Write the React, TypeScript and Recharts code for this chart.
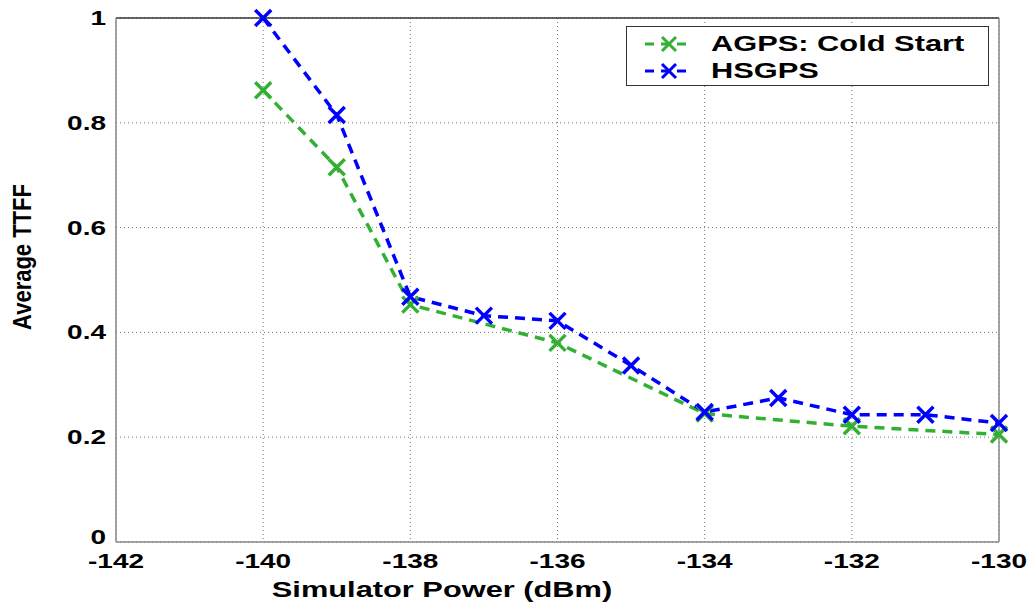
import React from "react";
import {
  LineChart,
  Line,
  XAxis,
  YAxis,
  CartesianGrid,
  ReferenceLine,
} from "recharts";

const POWER = [-140, -139, -138, -137, -136, -135, -134, -133, -132, -131, -130];
const AGPS_COLD = [0.862, 0.715, 0.453, null, 0.38, null, 0.245, null, 0.221, null, 0.205];
const HSGPS = [1.0, 0.815, 0.468, 0.432, 0.422, 0.337, 0.248, 0.275, 0.243, 0.243, 0.227];

const X_TICKS = [-142, -140, -138, -136, -134, -132, -130];
const Y_TICKS = [0, 0.2, 0.4, 0.6, 0.8, 1];

const SERIES = [
  { key: "agps", label: "AGPS: Cold Start", color: "#33b033" },
  { key: "hsgps", label: "HSGPS", color: "#0000ff" },
];

const data = POWER.map((p, i) => ({
  power: p,
  agps: AGPS_COLD[i],
  hsgps: HSGPS[i],
}));

const FONT = "'Liberation Sans', Arial, Helvetica, sans-serif";
// the reference image is stretched sideways, so the text is too
const STRETCH = 1.4;

function XTick(props: any) {
  const { x, y, payload } = props;
  return (
    <text
      transform={`translate(${x},${y + 18}) scale(${STRETCH},1)`}
      textAnchor="middle"
      fontFamily={FONT}
      fontWeight="bold"
      fontSize={20}
      fill="#000"
    >
      {payload.value}
    </text>
  );
}

function YTick(props: any) {
  const { x, y, payload } = props;
  const dy = payload.value === 0 ? 2 : 7;
  return (
    <text
      transform={`translate(${x - 2},${y + dy}) scale(${STRETCH},1)`}
      textAnchor="end"
      fontFamily={FONT}
      fontWeight="bold"
      fontSize={20}
      fill="#000"
    >
      {payload.value}
    </text>
  );
}

function makeCross(color: string) {
  return (props: any) => {
    const { cx, cy, index } = props;
    if (cx == null || cy == null || props.value == null) return <g key={index} />;
    const s = 8;
    return (
      <path
        key={index}
        d={`M${cx - s},${cy - s}L${cx + s},${cy + s}M${cx - s},${cy + s}L${cx + s},${cy - s}`}
        stroke={color}
        strokeWidth={3.5}
        fill="none"
      />
    );
  };
}

function LegendBox() {
  return (
    <div
      style={{
        position: "absolute",
        left: 626,
        top: 26,
        border: "1.5px solid #333",
        background: "#fff",
        width: 363,
        height: 60,
        boxSizing: "border-box",
        padding: "3px 0 0 16px",
      }}
    >
      {SERIES.map((s) => (
        <div key={s.key} style={{ display: "flex", alignItems: "center", height: 27 }}>
          <svg width={52} height={20}>
            <line x1={2} y1={10} x2={50} y2={10} stroke={s.color} strokeWidth={3} strokeDasharray="9 7" />
            <path d="M19,3L33,17M19,17L33,3" stroke={s.color} strokeWidth={3} />
          </svg>
          <span
            style={{
              marginLeft: 16,
              fontFamily: FONT,
              fontWeight: "bold",
              fontSize: 22,
              color: "#000",
              display: "inline-block",
              transform: `scaleX(${STRETCH})`,
              transformOrigin: "left center",
              whiteSpace: "nowrap",
            }}
          >
            {s.label}
          </span>
        </div>
      ))}
    </div>
  );
}

export default function App() {
  return (
    <div style={{ position: "absolute", left: 0, top: 0, width: 1028, height: 608, background: "#fff" }}>
      <LineChart
        width={1028}
        height={608}
        data={data}
        margin={{ top: 18, right: 29, bottom: 0, left: 0 }}
      >
        <CartesianGrid stroke="#777" strokeDasharray="1 3" />
        <XAxis
          dataKey="power"
          type="number"
          domain={[-142, -130]}
          ticks={X_TICKS}
          interval={0}
          height={66}
          tick={<XTick />}
          tickLine={false}
          axisLine={{ stroke: "#888", strokeWidth: 1.5 }}
          label={{
            content: () => (
              <text
                transform={`translate(442,597) scale(${STRETCH},1)`}
                textAnchor="middle"
                fontFamily={FONT}
                fontWeight="bold"
                fontSize={22}
                fill="#000"
              >
                Simulator Power (dBm)
              </text>
            ),
          }}
        />
        <YAxis
          type="number"
          domain={[0, 1]}
          ticks={Y_TICKS}
          interval={0}
          width={116}
          tick={<YTick />}
          tickLine={false}
          axisLine={{ stroke: "#888", strokeWidth: 1.5 }}
          label={{
            content: () => (
              <text
                transform="translate(31,257) rotate(-90) scale(1,1.2)"
                textAnchor="middle"
                fontFamily={FONT}
                fontWeight="bold"
                fontSize={22}
                fill="#000"
              >
                Average TTFF
              </text>
            ),
          }}
        />
        <ReferenceLine y={1} stroke="#333" strokeWidth={1.5} />
        <ReferenceLine x={-130} stroke="#888" strokeWidth={1.5} />
        {SERIES.map((s) => (
          <Line
            key={s.key}
            dataKey={s.key}
            name={s.label}
            type="linear"
            stroke={s.color}
            strokeWidth={3.5}
            strokeDasharray="10 7"
            connectNulls
            dot={makeCross(s.color)}
            activeDot={false}
            isAnimationActive={false}
          />
        ))}
      </LineChart>
      <LegendBox />
    </div>
  );
}
